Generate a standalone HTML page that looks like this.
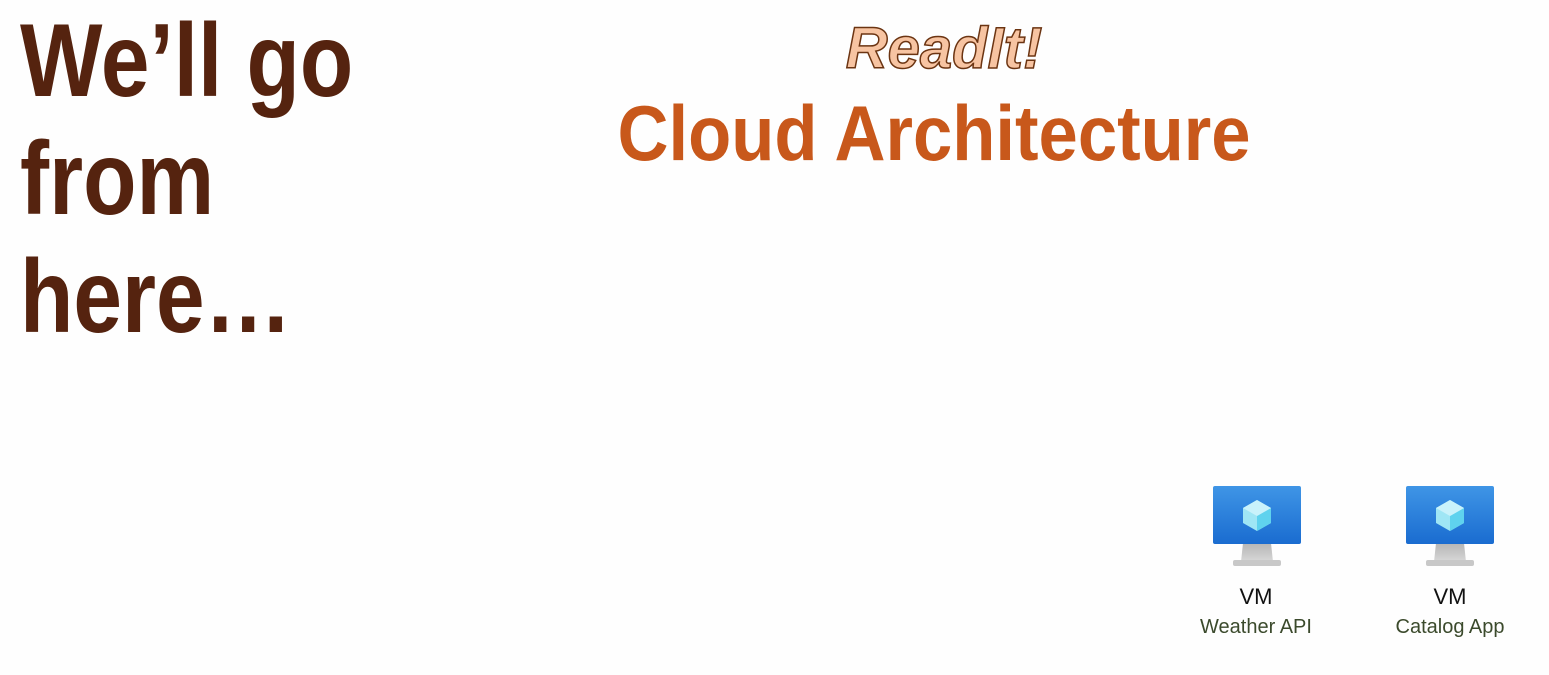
<!DOCTYPE html>
<html><head><style>
body{margin:0;width:1549px;height:675px;background:#fefefe;position:relative;overflow:hidden;font-family:"Liberation Sans",sans-serif}
.t{position:absolute;white-space:nowrap;font-weight:bold;transform-origin:0 0}
.lbl{position:absolute;text-align:center;width:200px;font-family:"Liberation Sans",sans-serif}
</style></head><body>
<div class="t" style="left:20px;top:2px;font-size:104px;line-height:118px;color:#55230f;transform:scaleX(0.84)">We’ll go<br>from<br>here…</div>
<svg style="position:absolute;left:0;top:0" width="1549" height="675">
<text x="944" y="68" text-anchor="middle" font-family="Liberation Sans" font-weight="bold" font-style="italic" font-size="58" fill="#f7c4a2" stroke="#6b3412" stroke-width="1.5">ReadIt!</text>
<text x="934" y="160" text-anchor="middle" font-family="Liberation Sans" font-weight="bold" font-size="78" fill="#c8581b" textLength="633" lengthAdjust="spacingAndGlyphs">Cloud Architecture</text>
<defs>
<linearGradient id="sc" x1="0" y1="0" x2="0" y2="1"><stop offset="0" stop-color="#3f95e6"/><stop offset="1" stop-color="#1a6cd0"/></linearGradient>
<linearGradient id="st" x1="0" y1="0" x2="0" y2="1"><stop offset="0" stop-color="#b5b5b5"/><stop offset="1" stop-color="#d8d8d8"/></linearGradient>
<g id="vm">
<path d="M30 57 L58 57 L60 76 L28 76 Z" fill="url(#st)"/>
<rect x="20" y="74" width="48" height="6" rx="2" fill="#c8c8c8"/>
<rect x="0" y="0" width="88" height="58" rx="2" fill="url(#sc)"/>
<polygon points="44,14 58,22 58,37 44,45 30,37 30,22" fill="#9fe6f5"/>
<polygon points="44,30 58,22 58,37 44,45" fill="#5fd2ee"/>
<polygon points="44,30 30,22 44,14 58,22" fill="#c9f2fb"/>
</g>
</defs>
<use href="#vm" x="1213" y="486"/>
<use href="#vm" x="1406" y="486"/>
</svg>
<div class="lbl" style="left:1156px;top:584px;font-size:22px;color:#111">VM</div>
<div class="lbl" style="left:1156px;top:616px;font-size:20px;color:#3b4a2c">Weather API</div>
<div class="lbl" style="left:1350px;top:584px;font-size:22px;color:#111">VM</div>
<div class="lbl" style="left:1350px;top:616px;font-size:20px;color:#3b4a2c">Catalog App</div>
</body></html>
